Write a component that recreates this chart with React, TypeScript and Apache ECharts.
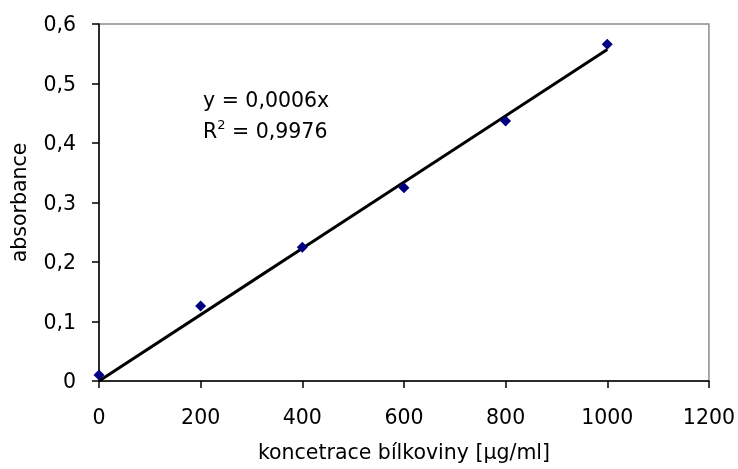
import React, { useEffect, useRef } from "react";
import * as echarts from "echarts";

const concentrations = [0, 200, 400, 600, 800, 1000];
const absorbances = [0.01, 0.126, 0.225, 0.325, 0.437, 0.566];
const xTicks = { min: 0, max: 1200, interval: 200 };
const yTicks = { min: 0, max: 0.6, interval: 0.1 };
const equationLabel = "y = 0,0006x";
const r2Label = "0,9976";
const xName = "koncetrace bílkoviny [µg/ml]";
const yName = "absorbance";

const FONT = "DejaVu Sans";
const FS = 20.5;

export default function App() {
  const ref = useRef<HTMLDivElement>(null);
  useEffect(() => {
    if (!ref.current) return;
    const chart = echarts.init(ref.current, undefined, { renderer: "svg" });
    let sxy = 0, sxx = 0;
    concentrations.forEach((x, i) => { sxy += x * absorbances[i]; sxx += x * x; });
    const slope = sxy / sxx;
    const last = concentrations[concentrations.length - 1];
    const trend = [
      [concentrations[0], slope * concentrations[0]],
      [last, slope * last],
    ];
    const fmtY = (v: number) => String(Math.round(v * 10) / 10).replace(".", ",");
    const fmtX = (v: number) => String(v);
    const txt = { fontSize: FS, color: "#000", fontFamily: FONT };
    chart.setOption({
      animation: false,
      textStyle: { fontFamily: FONT, fontSize: FS },
      grid: {
        left: 97, top: 24, width: 612, height: 357,
        show: true, borderColor: "#8c8c8c", borderWidth: 1.5, backgroundColor: "#fff",
      },
      xAxis: {
        type: "value", ...xTicks,
        name: xName, nameLocation: "middle", nameGap: 60,
        nameTextStyle: txt,
        axisLine: { show: true, onZero: false, lineStyle: { color: "#000", width: 1.5 } },
        axisTick: { show: true, length: 7, lineStyle: { color: "#000", width: 1.5 } },
        axisLabel: { ...txt, margin: 25, formatter: fmtX },
        splitLine: { show: false },
      },
      yAxis: {
        type: "value", ...yTicks,
        name: yName, nameLocation: "middle", nameGap: 70, nameRotate: 90,
        nameTextStyle: txt,
        axisLine: { show: true, onZero: false, lineStyle: { color: "#000", width: 1.5 } },
        axisTick: { show: true, length: 7, lineStyle: { color: "#000", width: 1.5 } },
        axisLabel: { ...txt, margin: 23, formatter: fmtY },
        splitLine: { show: false },
      },
      series: [
        {
          type: "line", data: trend, showSymbol: false, symbol: "none",
          lineStyle: { color: "#000", width: 3 }, z: 2,
        },
        {
          type: "scatter", data: concentrations.map((x, i) => [x, absorbances[i]]),
          symbol: "diamond", symbolSize: 11,
          itemStyle: { color: "#000080", opacity: 1 }, z: 3,
        },
      ],
      graphic: [
        {
          type: "text", left: 203, top: 84,
          style: {
            text: "{r|" + equationLabel + "}\n{r|R}{sup|2}{r| = " + r2Label + "}",
            fontSize: FS, fontFamily: FONT, fill: "#000", lineHeight: 31,
            rich: {
              r: { fontSize: FS, fontFamily: FONT, fill: "#000", lineHeight: 31 },
              sup: { fontSize: 13, fontFamily: FONT, fill: "#000", verticalAlign: "top", padding: [3, 0, 0, 0], lineHeight: 31 },
            },
          },
        },
      ],
    });
    return () => chart.dispose();
  }, []);
  return <div ref={ref} style={{ width: 738, height: 469, position: "fixed", left: 0, top: 0 }} />;
}
